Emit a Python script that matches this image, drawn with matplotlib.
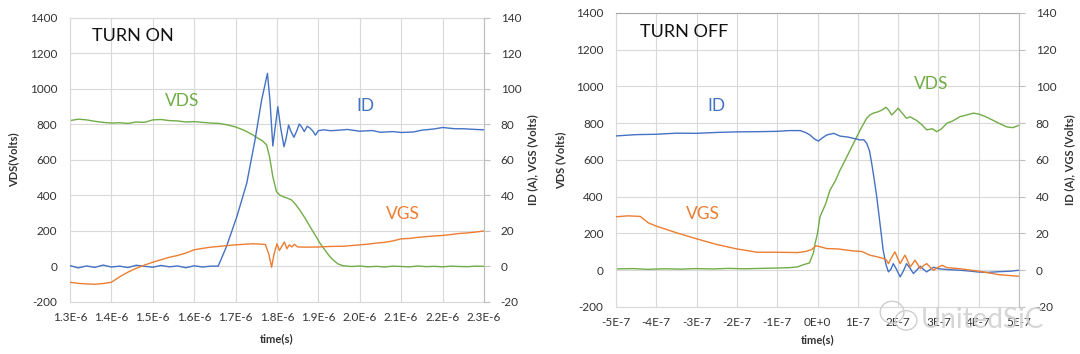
import matplotlib
matplotlib.use('Agg')
import matplotlib.pyplot as plt
from matplotlib.patches import Ellipse

plt.rcParams['font.family'] = ['Lato', 'DejaVu Sans']
plt.rcParams['axes.unicode_minus'] = False  # Excel prints a plain hyphen

# ---- colours (Excel default palette) ----
c_vds = '#70AD47'
c_id = '#4472C4'
c_vgs = '#ED7D31'

# ---- TURN ON data (time in 1E-6 s) ----
on_vds_t = [1.30, 1.32, 1.34, 1.36, 1.38, 1.40, 1.42, 1.44, 1.46, 1.48, 1.50, 1.52, 1.54, 1.56, 1.58,
            1.60, 1.62, 1.64, 1.66, 1.68, 1.70, 1.72, 1.74, 1.75, 1.765, 1.775, 1.782, 1.790, 1.799,
            1.807, 1.815, 1.825, 1.835, 1.845, 1.855, 1.868, 1.880, 1.892, 1.904, 1.916, 1.928, 1.938,
            1.948, 1.96, 1.98, 2.00, 2.02, 2.04, 2.06, 2.08, 2.10, 2.12, 2.14, 2.16, 2.18, 2.20, 2.22,
            2.24, 2.26, 2.28, 2.30]
on_vds = [822, 830, 826, 818, 812, 808, 810, 806, 814, 812, 826, 828, 822, 820, 814,
          816, 812, 808, 806, 798, 786, 768, 744, 728, 708, 685, 619, 506, 421,
          402, 393, 385, 375, 350, 318, 272, 224, 178, 131, 92, 55, 32,
          14, 4, 0, 3, -2, 1, -3, 2, 0, -2, 3, -1, 1, -2, 2,
          0, -1, 2, 1]

on_id_t = [1.30, 1.32, 1.34, 1.36, 1.38, 1.40, 1.42, 1.44, 1.46, 1.48, 1.50, 1.52, 1.54, 1.56, 1.58,
           1.60, 1.62, 1.64, 1.658, 1.678, 1.703, 1.727, 1.747, 1.763, 1.777, 1.783, 1.790, 1.796,
           1.802, 1.809, 1.817, 1.822, 1.828, 1.834, 1.841, 1.848, 1.854, 1.860, 1.866, 1.873, 1.880,
           1.886, 1.893, 1.900, 1.912, 1.93, 1.95, 1.97, 2.00, 2.03, 2.05, 2.08, 2.10, 2.13, 2.15,
           2.18, 2.20, 2.23, 2.25, 2.28, 2.30]
on_id = [0.5, -0.8, 0.3, -0.5, 0.8, -0.3, 0.2, -0.6, 0.7, 0.1, -0.4, 0.6, -0.2, 0.3, -0.7,
         0.4, -0.3, 0.2, 0.2, 11.2, 28, 46.9, 71.3, 93.8, 108.8, 93.8, 67.9, 79,
         90, 78, 67.5, 72, 79.7, 76, 72.8, 76.5, 80.3, 78.5, 76, 79, 77.9,
         76.5, 74, 76.5, 77, 76.5, 76.8, 77.2, 76.2, 76.6, 75.6, 76, 75.5, 75.8, 76.8,
         77.5, 78.3, 77.6, 77.6, 77.2, 77]

on_vgs_t = [1.30, 1.32, 1.34, 1.36, 1.38, 1.40, 1.42, 1.44, 1.46, 1.48, 1.50, 1.52, 1.54, 1.56, 1.58,
            1.60, 1.62, 1.64, 1.66, 1.68, 1.70, 1.72, 1.74, 1.76, 1.772, 1.780, 1.787, 1.793, 1.800,
            1.806, 1.812, 1.818, 1.824, 1.830, 1.836, 1.842, 1.85, 1.87, 1.90, 1.93, 1.96, 2.00,
            2.02, 2.04, 2.06, 2.08, 2.10, 2.12, 2.14, 2.16, 2.18, 2.20, 2.22, 2.24, 2.26, 2.28, 2.30]
on_vgs = [-8.9, -9.5, -9.8, -10, -9.6, -8.9, -5.8, -3.2, -1, 0.8, 2.4, 3.8, 5.2, 6.2, 7.6,
          9.4, 10.2, 10.9, 11.3, 11.8, 12.2, 12.5, 12.8, 12.6, 12.4, 7.2, -0.4, 7, 12.8,
          9, 11.5, 13.8, 10, 12.2, 11, 12.5, 11, 10.9, 11, 11.3, 11.4, 12.2,
          12.6, 13.2, 13.6, 14.4, 15.6, 15.8, 16.4, 16.8, 17.2, 17.5, 18.0, 18.6, 18.9, 19.4, 20.0]

# ---- TURN OFF data (time in 1E-7 s) ----
off_vds_t = [-5, -4.6, -4.2, -3.8, -3.4, -3.0, -2.6, -2.2, -1.8, -1.4, -1.0, -0.7, -0.5, -0.35, -0.2,
             -0.1, -0.06, 0.0, 0.06, 0.2, 0.31, 0.45, 0.56, 0.7, 0.81, 0.95, 1.06, 1.22, 1.3, 1.385,
             1.5, 1.6, 1.7, 1.77, 1.84, 1.92, 2.0, 2.1, 2.21, 2.3, 2.46, 2.6, 2.71, 2.85, 2.96, 3.08,
             3.21, 3.35, 3.54, 3.7, 3.87, 4.0, 4.15, 4.3, 4.5, 4.7, 4.85, 5.0]
off_vds = [7, 9, 5, 8, 6, 9, 7, 10, 8, 10, 12, 14, 18, 30, 40,
           95, 146, 200, 290, 360, 436, 490, 545, 605, 654, 715, 764, 827, 845, 855,
           862, 872, 887, 870, 845, 862, 882, 855, 827, 835, 815, 790, 764, 770, 754, 770,
           800, 812, 836, 845, 855, 850, 838, 822, 800, 780, 776, 789]

off_id_t = [-5, -4.5, -4, -3.5, -3, -2.5, -2, -1.5, -1, -0.7, -0.43, -0.3, -0.186, -0.08, 0.02,
            0.12, 0.228, 0.4, 0.56, 0.75, 0.889, 1.055, 1.15, 1.22, 1.29, 1.345, 1.41, 1.47, 1.55,
            1.63, 1.70, 1.76, 1.82, 1.88, 1.96, 2.05, 2.13, 2.21, 2.30, 2.38, 2.46, 2.55, 2.63, 2.71,
            2.80, 2.88, 3.0, 3.21, 3.54, 3.8, 3.96, 4.2, 4.5, 4.8, 5.0]
off_id = [73.1, 73.8, 74, 74.6, 74.5, 75, 75.3, 75.4, 75.6, 76, 76, 75, 73.6, 71.5, 70.3,
          72, 73.6, 74.5, 73, 72.5, 71.8, 70.9, 71, 69.1, 65, 58.2, 49, 40, 25.5,
          10.9, 3, -0.9, 0.5, 3.6, 0.5, -3.6, -0.5, 3.6, 1, -1.8, 0, 2.2, 0.5, -0.9,
          0.5, 1.6, 0.8, 0.4, 0, -0.5, -0.9, -1.2, -0.8, -0.5, 0]

off_vgs_t = [-5, -4.7, -4.4, -4.2, -4.0, -3.5, -3.0, -2.5, -2.0, -1.5, -1.0, -0.5, -0.3, -0.15, -0.04,
             0.1, 0.228, 0.5, 0.889, 1.1, 1.30, 1.5, 1.63, 1.70, 1.76, 1.84, 1.92, 1.98, 2.05, 2.11,
             2.17, 2.24, 2.30, 2.36, 2.42, 2.49, 2.55, 2.63, 2.71, 2.80, 2.88, 2.98, 3.09, 3.2, 3.54,
             4.0, 4.5, 5.0]
off_vgs = [29.1, 29.6, 29.3, 25.8, 24, 20.4, 17.1, 14, 11.6, 9.8, 9.8, 9.6, 10.2, 11.2, 13.3,
           12.6, 11.8, 11.6, 10.5, 10.2, 8.2, 7.2, 6.4, 5.8, 3.6, 7, 10, 7, 3.6, 6,
           8.2, 5, 1.8, 3.5, 5.5, 3, 0.9, 2.5, 3.6, 1.5, 0, 1.5, 2.7, 1.5, 0.8,
           -0.5, -2.4, -3.3]

# ---- axis ticks ----
on_ticks = [1.3, 1.4, 1.5, 1.6, 1.7, 1.8, 1.9, 2.0, 2.1, 2.2, 2.3]
on_tick_labels = ['1.3E-6', '1.4E-6', '1.5E-6', '1.6E-6', '1.7E-6', '1.8E-6', '1.9E-6',
                  '2.0E-6', '2.1E-6', '2.2E-6', '2.3E-6']
off_ticks = [-5, -4, -3, -2, -1, 0, 1, 2, 3, 4, 5]
off_tick_labels = ['-5E-7', '-4E-7', '-3E-7', '-2E-7', '-1E-7', '0E+0', '1E-7', '2E-7',
                   '3E-7', '4E-7', '5E-7']
left_ticks = [-200, 0, 200, 400, 600, 800, 1000, 1200, 1400]
right_ticks = [-20, 0, 20, 40, 60, 80, 100, 120, 140]

grid_c = '#d9d9d9'
text_c = '#333333'


def make_panel(rect, t_ticks, t_labels, vds_t, vds, id_t, idv, vgs_t, vgs, ylab, ylab_x, xlab_y,
               frame_c):
    ax = fig.add_axes(rect)
    ax.plot(vds_t, vds, color=c_vds, lw=1.0)
    ax.set_xlim(t_ticks[0], t_ticks[-1])
    ax.set_ylim(-200, 1400)
    ax.set_xticks(t_ticks)
    ax.set_xticklabels(t_labels)
    ax.set_yticks(left_ticks)
    ax.grid(True, color=grid_c, lw=0.8)
    ax.set_axisbelow(True)
    ax.tick_params(length=0, labelsize=8.5, labelcolor=text_c)
    ax.tick_params(axis='y', pad=9)
    ax.tick_params(axis='x', pad=7)
    for s in ax.spines.values():
        s.set_color(grid_c)
    ax.spines['top'].set_color(frame_c)
    ax.set_ylabel(ylab, fontsize=8, fontweight='bold', color=text_c)
    ax.yaxis.set_label_coords(ylab_x[0], 0.5)
    ax.set_xlabel('time(s)', fontsize=8, fontweight='bold', color=text_c)
    ax.xaxis.set_label_coords(0.5, xlab_y)

    ax2 = ax.twinx()
    ax2.plot(id_t, idv, color=c_id, lw=1.0)
    ax2.plot(vgs_t, vgs, color=c_vgs, lw=1.0)
    ax2.set_ylim(-20, 140)
    ax2.set_yticks(right_ticks)
    ax2.tick_params(axis='y', length=4, color='#bfbfbf', labelsize=8.5, labelcolor=text_c, pad=8)
    for s in ax2.spines.values():
        s.set_visible(False)
    ax2.spines['right'].set_visible(True)
    ax2.spines['right'].set_color('#bfbfbf')
    ax2.set_ylabel('ID (A), VGS (Volts)', fontsize=8, fontweight='bold', color=text_c,
                   rotation=90)
    ax2.yaxis.set_label_coords(ylab_x[1], 0.5)
    return ax


fig = plt.figure(figsize=(10.8, 3.54), dpi=100)

ax_on = make_panel([0.0648, 0.1469, 0.3833, 0.8023], on_ticks, on_tick_labels,
                   on_vds_t, on_vds, on_id_t, on_id, on_vgs_t, on_vgs,
                   'VDS(Volts)', (-0.123, 1.104), -0.109, grid_c)
ax_on.text(1.352, 1300, 'TURN ON', fontsize=13, va='center', ha='left', color='#111111')
ax_on.text(1.57, 935, 'VDS', fontsize=12.5, color=c_vds, ha='center', va='center')
ax_on.text(2.014, 905, 'ID', fontsize=12.5, color=c_id, ha='center', va='center')
ax_on.text(2.104, 298, 'VGS', fontsize=12.5, color=c_vgs, ha='center', va='center')

ax_off = make_panel([0.5704, 0.1328, 0.3731, 0.8305], off_ticks, off_tick_labels,
                    off_vds_t, off_vds, off_id_t, off_id, off_vgs_t, off_vgs,
                    'VDS (Volts)', (-0.124, 1.112), -0.092, '#a6a6a6')
ax_off.text(-4.41, 1294, 'TURN OFF', fontsize=13, va='center', ha='left', color='#111111')
ax_off.text(-2.51, 894, 'ID', fontsize=12.5, color=c_id, ha='center', va='center')
ax_off.text(2.82, 1013, 'VDS', fontsize=12.5, color=c_vds, ha='center', va='center')
ax_off.text(-2.85, 304, 'VGS', fontsize=12.5, color=c_vgs, ha='center', va='center')

# watermark: WeChat-like bubbles + name
wm_c = '#cfcfcf'
fig.patches.append(Ellipse((0.826, 0.118), 0.022, 0.062, transform=fig.transFigure,
                           fill=False, ec=wm_c, lw=1.0))
fig.patches.append(Ellipse((0.839, 0.095), 0.020, 0.055, transform=fig.transFigure,
                           fill=False, ec=wm_c, lw=1.0))
fig.text(0.853, 0.097, 'UnitedSiC', fontsize=20, color=wm_c, alpha=0.85,
         ha='left', va='center')

fig.savefig('out.png', dpi=100)
